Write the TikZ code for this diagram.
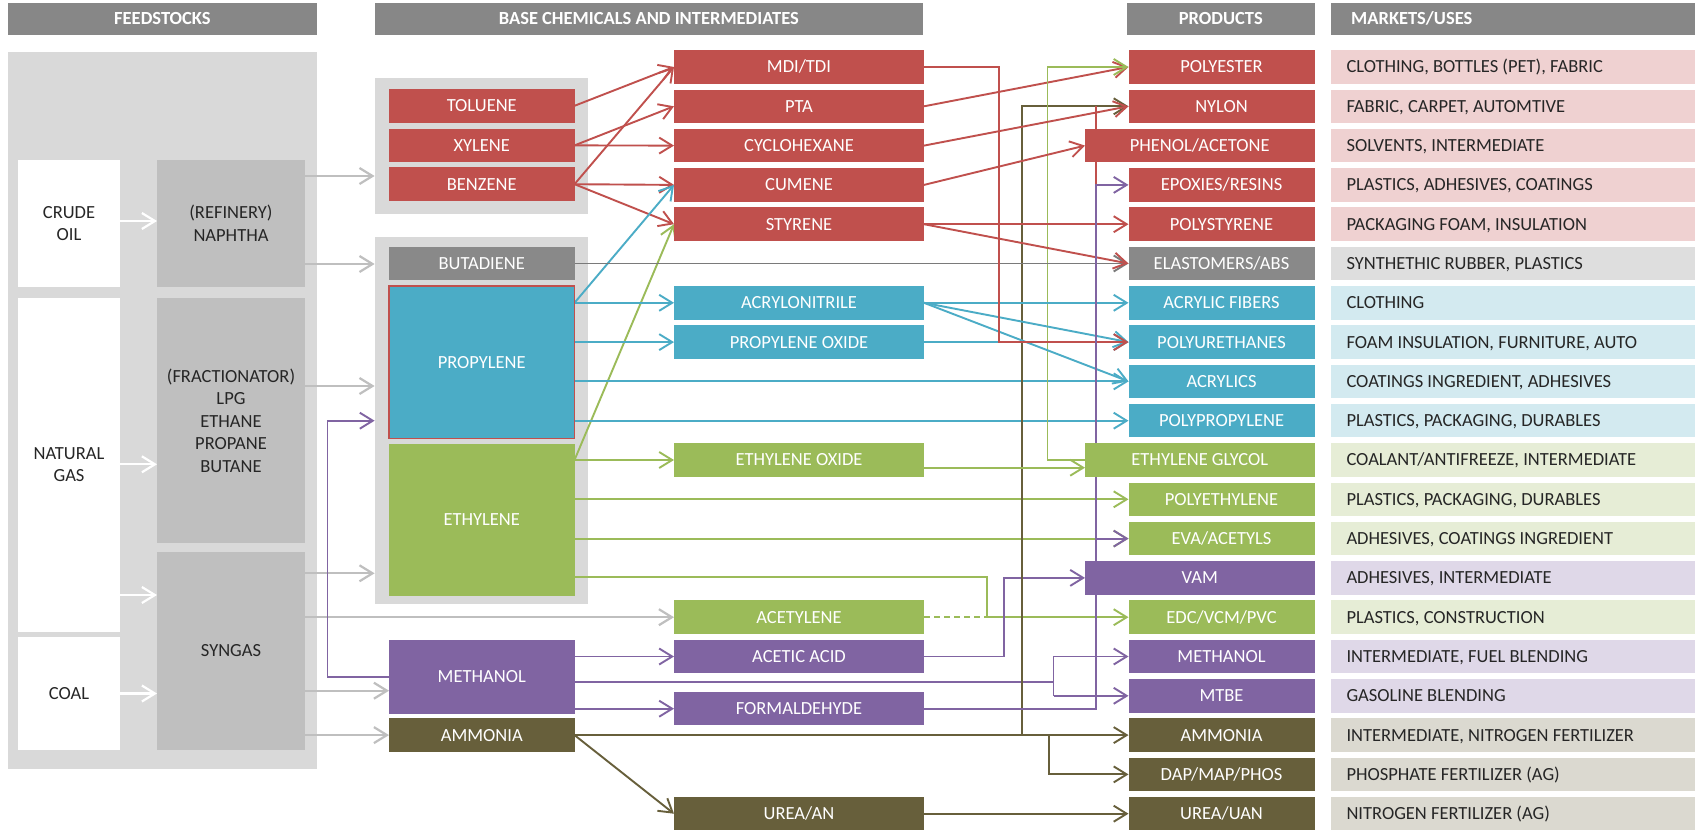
\documentclass[tikz,border=0pt]{standalone}
\usepackage{fontspec}
\setmainfont{Carlito}
\usetikzlibrary{arrows.meta}
\pgfdeclarelayer{back}
\pgfdeclarelayer{lines}
\pgfsetlayers{back,lines,main}
\definecolor{hdr}{HTML}{878787}
\definecolor{fbg}{HTML}{D9D9D9}
\definecolor{fbox}{HTML}{BFBFBF}
\definecolor{cred}{HTML}{C0504D}
\definecolor{cblue}{HTML}{4BACC6}
\definecolor{cgreen}{HTML}{9BBB59}
\definecolor{cpurple}{HTML}{8064A2}
\definecolor{colive}{HTML}{675F3B}
\definecolor{cgray}{HTML}{898989}
\definecolor{cgline}{HTML}{7A7A7A}
\definecolor{lred}{HTML}{EFD1D1}
\definecolor{lblue}{HTML}{D3EAF0}
\definecolor{lgreen}{HTML}{E6EDD6}
\definecolor{lpurple}{HTML}{DFD8E8}
\definecolor{lgray}{HTML}{DEDEDE}
\definecolor{lolive}{HTML}{DBD9D0}
\definecolor{txt}{HTML}{262626}
\newcommand\fs{\fontsize{9.25}{11.2}\selectfont}
\tikzset{
  box/.style={rectangle, inner sep=0pt, outer sep=0pt, text=white, font=\fs, align=center},
  one/.style={text height=5.96pt, text depth=0pt},
  dark/.style={text=txt},
  ln/.style={line width=0.95pt},
  arr/.style={ln, -{Straight Barb[length=6.5pt,width=8pt]}},
  wa/.style={arr, draw=white, line width=1.1pt},
  ga/.style={arr, draw=fbox, line width=1.1pt},
  txtn/.style={inner sep=0pt, text=txt, font=\fs, text height=5.96pt, text depth=0pt},
}
\newcommand\bx[7]{\node[box,#6,minimum width={(#4-#2)*0.5pt},minimum height={(#5-#3)*0.5pt}] (#1) at ({(#2+#4)/2},{(#3+#5)/2}) {#7};}
\newcommand\rb[6]{\node[box,one,#5,minimum width={(#3-#2)*0.5pt},minimum height=16.75pt] (#1) at ({(#2+#3)/2},#4) {#6};}
\newcommand\mk[4]{\node[rectangle,inner sep=0pt,fill=#3,minimum width=182pt,minimum height=16.75pt] (#1) at (1513,#2) {};
  \node[txtn,anchor=west] (#1t) at ([xshift=7.75pt]#1.west) {#4};}
\begin{document}
\begin{tikzpicture}[x=0.5pt,y=-0.5pt]
\useasboundingbox (0,0) rectangle (1696,830);
\begin{pgfonlayer}{back}
\fill[white] (0,0) rectangle (1696,830);
\bx{fbgn}{8.4}{52}{316.5}{769}{fill=fbg}{}
\bx{arombg}{374.6}{78}{588}{213.7}{fill=fbg}{}
\bx{olebg}{374.6}{237}{588}{604.3}{fill=fbg}{}
\end{pgfonlayer}
% headers
\bx{h1}{8.4}{3.3}{316.5}{34.7}{one,fill=hdr,font=\fs\bfseries}{FEEDSTOCKS}
\bx{h2}{374.6}{3.3}{923}{34.7}{one,fill=hdr,font=\fs\bfseries}{BASE CHEMICALS AND INTERMEDIATES}
\bx{h3}{1127}{3.3}{1314.5}{34.7}{one,fill=hdr,font=\fs\bfseries}{PRODUCTS}
\bx{h4}{1331}{3.3}{1695}{34.7}{fill=hdr}{}
\node[txtn,anchor=west,text=white,font=\fs\bfseries] (h4t) at ([xshift=9.9pt]h4.west) {MARKETS/USES};
% feedstocks
\bx{crude}{18.1}{160}{120}{286.7}{fill=white,dark}{CRUDE\\OIL}
\bx{naph}{157}{160}{305}{286.7}{fill=fbox,dark}{(REFINERY)\\NAPHTHA}
\bx{ng}{18.1}{297.7}{120}{631.7}{fill=white,dark}{NATURAL\\GAS}
\bx{fract}{157}{297.7}{305}{543.3}{fill=fbox,dark}{(FRACTIONATOR)\\LPG\\ETHANE\\PROPANE\\BUTANE}
\bx{coal}{18.1}{637}{120}{750}{fill=white,dark,one}{COAL}
\bx{syn}{157}{551.7}{305}{750}{fill=fbox,dark,one}{SYNGAS}
% base chemicals
\rb{tol}{389}{574.5}{105.8}{fill=cred}{TOLUENE}
\rb{xyl}{389}{574.5}{145.4}{fill=cred}{XYLENE}
\rb{ben}{389}{574.5}{184.2}{fill=cred}{BENZENE}
\rb{but}{389}{574.5}{263.5}{fill=cgray}{BUTADIENE}
\bx{prop}{389}{286}{574.5}{438.3}{one,fill=cblue,draw=cred,line width=0.7pt}{PROPYLENE}
\bx{eth}{389}{444}{574.5}{595.7}{one,fill=cgreen}{ETHYLENE}
\bx{meth}{389}{640}{574.5}{713.7}{one,fill=cpurple}{METHANOL}
\rb{amm}{389}{574.5}{735.1}{fill=colive}{AMMONIA}
% intermediates
\rb{mdi}{674}{924}{67.0}{fill=cred}{MDI/TDI}
\rb{pta}{674}{924}{106.3}{fill=cred}{PTA}
\rb{cyc}{674}{924}{145.6}{fill=cred}{CYCLOHEXANE}
\rb{cum}{674}{924}{184.9}{fill=cred}{CUMENE}
\rb{sty}{674}{924}{224.2}{fill=cred}{STYRENE}
\rb{acn}{674}{924}{302.8}{fill=cblue}{ACRYLONITRILE}
\rb{po}{674}{924}{342.1}{fill=cblue}{PROPYLENE OXIDE}
\rb{eo}{674}{924}{460.0}{fill=cgreen}{ETHYLENE OXIDE}
\rb{acy}{674}{924}{617.2}{fill=cgreen}{ACETYLENE}
\rb{acet}{674}{924}{656.5}{fill=cpurple}{ACETIC ACID}
\rb{form}{674}{924}{708.7}{fill=cpurple}{FORMALDEHYDE}
\rb{urea}{674}{924}{813.7}{fill=colive}{UREA/AN}
% products
\rb{pes}{1128.5}{1314.5}{67.0}{fill=cred}{POLYESTER}
\rb{nyl}{1128.5}{1314.5}{106.3}{fill=cred}{NYLON}
\rb{phe}{1085}{1314.5}{145.6}{fill=cred}{PHENOL/ACETONE}
\rb{epx}{1128.5}{1314.5}{184.9}{fill=cred}{EPOXIES/RESINS}
\rb{ps}{1128.5}{1314.5}{224.2}{fill=cred}{POLYSTYRENE}
\rb{ela}{1128.5}{1314.5}{263.5}{fill=cgray}{ELASTOMERS/ABS}
\rb{fib}{1128.5}{1314.5}{302.8}{fill=cblue}{ACRYLIC FIBERS}
\rb{pur}{1128.5}{1314.5}{342.1}{fill=cblue}{POLYURETHANES}
\rb{acry}{1128.5}{1314.5}{381.4}{fill=cblue}{ACRYLICS}
\rb{pp}{1128.5}{1314.5}{420.7}{fill=cblue}{POLYPROPYLENE}
\rb{gly}{1085}{1314.5}{460.0}{fill=cgreen}{ETHYLENE GLYCOL}
\rb{pe}{1128.5}{1314.5}{499.3}{fill=cgreen}{POLYETHYLENE}
\rb{eva}{1128.5}{1314.5}{538.6}{fill=cgreen}{EVA/ACETYLS}
\rb{vam}{1085}{1314.5}{577.9}{fill=cpurple}{VAM}
\rb{edc}{1128.5}{1314.5}{617.2}{fill=cgreen}{EDC/VCM/PVC}
\rb{mep}{1128.5}{1314.5}{656.5}{fill=cpurple}{METHANOL}
\rb{mtbe}{1128.5}{1314.5}{695.8}{fill=cpurple}{MTBE}
\rb{ammp}{1128.5}{1314.5}{735.1}{fill=colive}{AMMONIA}
\rb{dap}{1128.5}{1314.5}{774.4}{fill=colive}{DAP/MAP/PHOS}
\rb{uan}{1128.5}{1314.5}{813.7}{fill=colive}{UREA/UAN}
% markets
\mk{m0}{67.0}{lred}{CLOTHING, BOTTLES (PET), FABRIC}
\mk{m1}{106.3}{lred}{FABRIC, CARPET, AUTOMTIVE}
\mk{m2}{145.6}{lred}{SOLVENTS, INTERMEDIATE}
\mk{m3}{184.9}{lred}{PLASTICS, ADHESIVES, COATINGS}
\mk{m4}{224.2}{lred}{PACKAGING FOAM, INSULATION}
\mk{m5}{263.5}{lgray}{SYNTHETHIC RUBBER, PLASTICS}
\mk{m6}{302.8}{lblue}{CLOTHING}
\mk{m7}{342.1}{lblue}{FOAM INSULATION, FURNITURE, AUTO}
\mk{m8}{381.4}{lblue}{COATINGS INGREDIENT, ADHESIVES}
\mk{m9}{420.7}{lblue}{PLASTICS, PACKAGING, DURABLES}
\mk{m10}{460.0}{lgreen}{COALANT/ANTIFREEZE, INTERMEDIATE}
\mk{m11}{499.3}{lgreen}{PLASTICS, PACKAGING, DURABLES}
\mk{m12}{538.6}{lgreen}{ADHESIVES, COATINGS INGREDIENT}
\mk{m13}{577.9}{lpurple}{ADHESIVES, INTERMEDIATE}
\mk{m14}{617.2}{lgreen}{PLASTICS, CONSTRUCTION}
\mk{m15}{656.5}{lpurple}{INTERMEDIATE, FUEL BLENDING}
\mk{m16}{695.8}{lpurple}{GASOLINE BLENDING}
\mk{m17}{735.1}{lolive}{INTERMEDIATE, NITROGEN FERTILIZER}
\mk{m18}{774.4}{lolive}{PHOSPHATE FERTILIZER (AG)}
\mk{m19}{813.7}{lolive}{NITROGEN FERTILIZER (AG)}
% junction coordinates
\coordinate (pj) at (327.5,0);
\coordinate (ej) at (987,0);
\coordinate (mdij) at (998.9,0);
\coordinate (vj) at (1004,0);
\coordinate (aj) at (1021.8,0);
\coordinate (gj) at (1047.5,0);
\coordinate (dj) at (1049,0);
\coordinate (mj) at (1053.5,0);
\coordinate (rj) at (1095.8,0);
\begin{pgfonlayer}{lines}
% feedstock arrows
\draw[wa] (crude.east|-0,221) -- (naph.west|-0,221);
\draw[wa] (ng.east|-0,464.3) -- (fract.west|-0,464.3);
\draw[wa] (ng.east|-0,595) -- (syn.west|-0,595);
\draw[wa] (coal.east) -- (syn.west|-coal.east);
\draw[ga] (naph.east|-0,176) -- (arombg.west|-0,176);
\draw[ga] (naph.east|-0,264) -- (olebg.west|-0,264);
\draw[ga] (fract.east|-0,386) -- (olebg.west|-0,386);
\draw[ga] (syn.east|-0,573.3) -- (olebg.west|-0,573.3);
\draw[ga] (syn.east|-acy.west) -- (acy.west);
\draw[ga] (syn.east|-0,690.7) -- (meth.west|-0,690.7);
\draw[ga] (syn.east|-amm.west) -- (amm.west);
\draw[arr,cpurple] (meth.west|-0,677.3) -- (pj|-0,677.3) -- (pj|-0,420.7) -- (olebg.west|-0,420.7);
% aromatics
\draw[arr,cred] (tol.east) -- (mdi.west);
\draw[arr,cred] (ben.east) -- (mdi.west);
\draw[arr,cred] (xyl.east) -- (pta.west);
\draw[arr,cred] (xyl.east) -- (cyc.west);
\draw[arr,cred] (ben.east) -- (cum.west);
\draw[arr,cred] (ben.east) -- (sty.west);
\draw[arr,cblue] (prop.east|-acn.west) -- (cum.west);
\draw[arr,cgreen] (eth.east|-eo.west) -- (sty.west);
% propylene
\draw[arr,cblue] (prop.east|-acn.west) -- (acn.west);
\draw[arr,cblue] (prop.east|-po.west) -- (po.west);
\draw[arr,cblue] (prop.east|-acry.west) -- (acry.west);
\draw[arr,cblue] (prop.east|-pp.west) -- (pp.west);
% ethylene
\draw[arr,cgreen] (eth.east|-eo.west) -- (eo.west);
\draw[arr,cgreen] (eth.east|-pe.west) -- (pe.west);
\draw[arr,cgreen] (eth.east|-eva.west) -- (eva.west);
\draw[arr,cgreen] (eth.east|-0,576.7) -- (ej|-0,576.7) -- (ej|-edc.west) -- (edc.west);
\draw[ln,cgreen,dash pattern=on 3pt off 2pt] (acy.east) -- (ej|-acy.east);
% methanol
\draw[arr,cpurple] (meth.east|-acet.west) -- (acet.west);
\draw[arr,cpurple] (meth.east|-form.west) -- (form.west);
\draw[ln,cpurple] (meth.east|-0,682.3) -- (mj|-0,682.3);
\draw[arr,cpurple] (mj|-mtbe.west) -- (mj|-mep.west) -- (mep.west);
\draw[arr,cpurple] (mj|-mtbe.west) -- (mtbe.west);
\draw[arr,cpurple] (acet.east) -- (vj|-acet.east) -- (vj|-vam.west) -- (vam.west);
% ammonia
\draw[arr,colive] (amm.east) -- (ammp.west);
\draw[arr,colive] (aj|-ammp.west) -- (aj|-nyl.west) -- (nyl.west);
\draw[arr,colive] (dj|-ammp.west) -- (dj|-dap.west) -- (dap.west);
\draw[arr,colive] (amm.east) -- (urea.west);
\draw[arr,colive] (urea.east) -- (uan.west);
% products
\draw[arr,cred] (pta.east) -- (pes.west);
\draw[arr,cgreen] (gly.west) -- (gj|-gly.west) -- (gj|-pes.west) -- (pes.west);
\draw[arr,cgreen] (eo.east|-0,467.7) -- (gly.west|-0,467.7);
\draw[arr,cred] (cyc.east) -- (nyl.west);
\draw[arr,cred] (cum.east) -- (phe.west);
\draw[arr,cred] (sty.east) -- (ps.west);
\draw[arr,cgline] (but.east) -- (ela.west);
\draw[arr,cred] (sty.east) -- (ela.west);
\draw[arr,cblue] (acn.east) -- (fib.west);
\draw[arr,cblue] (acn.east) -- (pur.west);
\draw[arr,cblue] (acn.east) -- (acry.west);
\draw[arr,cblue] (po.east) -- (pur.west);
\draw[arr,cred] (mdi.east) -- (mdij|-mdi.east) -- (mdij|-pur.west) -- (pur.west);
\draw[ln,cred] (rj|-nyl.west) -- (rj|-epx.west);
\draw[arr,cpurple] (form.east) -- (rj|-form.east) -- (rj|-epx.west) -- (epx.west);
\draw[arr,cpurple] (rj|-eva.west) -- (eva.west);
\end{pgfonlayer}
\end{tikzpicture}
\end{document}
